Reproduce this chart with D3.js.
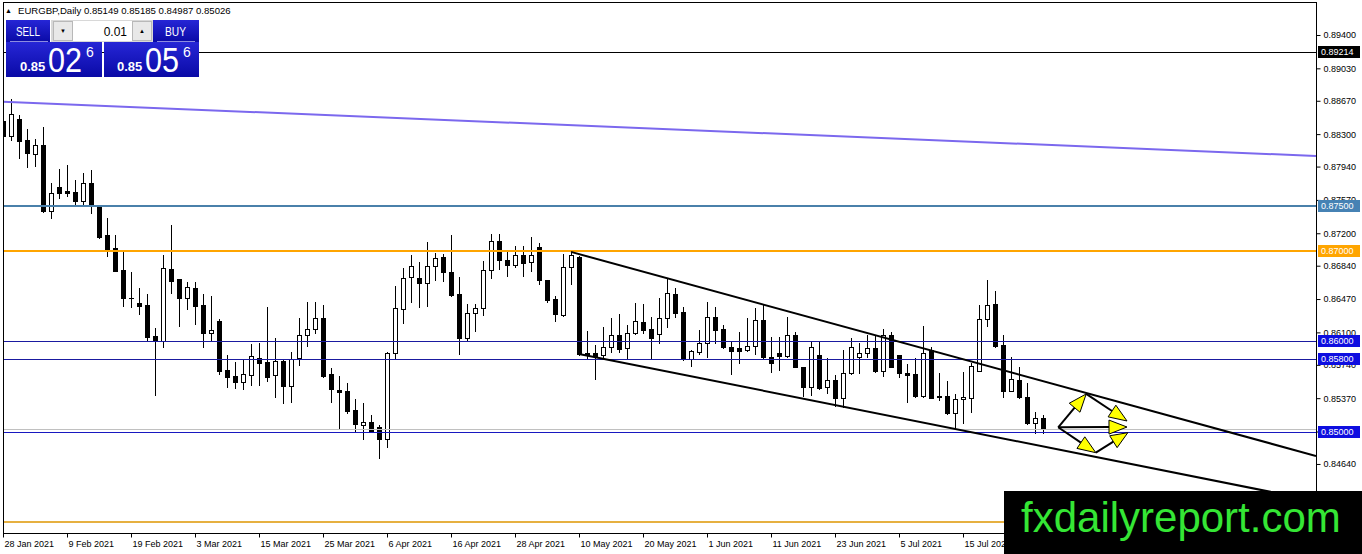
<!DOCTYPE html>
<html><head><meta charset="utf-8">
<script src="https://cdn.jsdelivr.net/npm/d3@7"></script>
<style>
html,body{margin:0;padding:0;background:#fff;overflow:hidden}
svg{display:block}
text{font-family:"Liberation Sans",Arial,sans-serif}
</style></head><body>
<svg id="c" width="1362" height="554"></svg>
<script>
const symbol = "EURGBP,Daily";
const open = [0.88447,0.88284,0.88469,0.88236,0.88077,0.88181,0.87451,0.87711,0.87670,0.87656,
0.87562,0.87755,0.87489,0.87182,0.87034,0.86793,0.86486,0.86430,0.86405,0.86060,
0.86005,0.86804,0.86693,0.86479,0.86597,0.86405,0.86097,0.86230,0.85683,0.85616,
0.85553,0.85624,0.85813,0.85772,0.85624,0.85786,0.85509,0.85820,0.86068,0.86135,
0.86257,0.85639,0.85461,0.85453,0.85239,0.85076,0.85102,0.85047,0.84914,0.85868,
0.86357,0.86719,0.86701,0.86649,0.86837,0.86934,0.86770,0.86527,0.86038,0.86312,
0.86371,0.86789,0.87112,0.86901,0.86852,0.86956,0.86879,0.87045,0.86685,0.86474,
0.86294,0.86823,0.86934,0.85875,0.85875,0.85853,0.85935,0.86068,0.85927,0.86090,
0.86219,0.86135,0.86079,0.86257,0.86527,0.86330,0.85808,0.85886,0.85979,0.86268,
0.86135,0.85935,0.85927,0.85905,0.85949,0.86238,0.85824,0.85868,0.85838,0.86072,
0.85713,0.85498,0.85850,0.85491,0.85572,0.85369,0.85646,0.85831,0.85868,0.85924,
0.85675,0.86072,0.85850,0.85646,0.85639,0.85394,0.85905,0.85394,0.85394,0.85209,
0.85358,0.85376,0.85675,0.86246,0.86416,0.85961,0.85453,0.85572,0.85387,0.85098,
0.85149];
const high = [0.88813,0.88691,0.88514,0.88358,0.88247,0.88380,0.87755,0.87914,0.87959,0.87792,
0.87866,0.87903,0.87507,0.87367,0.87182,0.86996,0.86768,0.86597,0.86523,0.86146,
0.86960,0.87293,0.86693,0.86663,0.86663,0.86523,0.86508,0.86246,0.85850,0.85775,
0.85802,0.85972,0.85986,0.86386,0.86035,0.85802,0.85886,0.86257,0.86435,0.86435,
0.86405,0.85702,0.85616,0.85542,0.85358,0.85313,0.85183,0.85072,0.85886,0.86615,
0.86815,0.86960,0.86882,0.87104,0.86982,0.86971,0.87185,0.86712,0.86416,0.86416,
0.86890,0.87193,0.87193,0.87007,0.87056,0.87056,0.87156,0.87093,0.86685,0.86501,
0.86971,0.86993,0.86945,0.86119,0.85964,0.86164,0.86260,0.86305,0.86179,0.86423,
0.86416,0.86275,0.86479,0.86690,0.86590,0.86386,0.85905,0.86127,0.86435,0.86379,
0.86183,0.85997,0.86108,0.86257,0.86368,0.86405,0.86046,0.86046,0.86268,0.86108,
0.85713,0.85997,0.85997,0.85813,0.85628,0.85905,0.86035,0.85986,0.86072,0.86060,
0.86135,0.86108,0.85850,0.85750,0.85813,0.86171,0.85935,0.85646,0.85561,0.85417,
0.85664,0.85757,0.86405,0.86682,0.86563,0.86072,0.85824,0.85713,0.85542,0.85220,
0.85185];
const low = [0.88225,0.88236,0.88033,0.87940,0.87951,0.87440,0.87367,0.87596,0.87618,0.87515,
0.87515,0.87422,0.87152,0.86952,0.86780,0.86397,0.86386,0.86308,0.86016,0.85406,
0.85942,0.86541,0.86175,0.86360,0.86194,0.85942,0.86005,0.85639,0.85491,0.85480,
0.85469,0.85517,0.85517,0.85564,0.85387,0.85313,0.85331,0.85739,0.85949,0.86090,
0.85602,0.85331,0.85025,0.85209,0.85009,0.84914,0.84998,0.84703,0.84832,0.85802,
0.86201,0.86441,0.86379,0.86390,0.86685,0.86674,0.86508,0.85861,0.86002,0.86113,
0.86297,0.86704,0.86807,0.86723,0.86823,0.86723,0.86785,0.86638,0.86438,0.86224,
0.86279,0.86638,0.85853,0.85808,0.85586,0.85816,0.85883,0.85883,0.85808,0.86079,
0.86097,0.85802,0.85986,0.86164,0.86275,0.85795,0.85727,0.85861,0.85831,0.85986,
0.85924,0.85639,0.85764,0.85894,0.85861,0.85820,0.85664,0.85683,0.85824,0.85713,
0.85394,0.85406,0.85469,0.85424,0.85283,0.85276,0.85639,0.85646,0.85831,0.85664,
0.85616,0.85713,0.85602,0.85331,0.85387,0.85380,0.85369,0.85350,0.85195,0.85025,
0.85091,0.85220,0.85675,0.86171,0.85942,0.85387,0.85453,0.85369,0.85084,0.84980,
0.84987];
const close = [0.88280,0.88521,0.88228,0.88088,0.88181,0.87451,0.87644,0.87651,0.87648,0.87562,
0.87755,0.87507,0.87163,0.87026,0.86785,0.86479,0.86479,0.86397,0.86053,0.86005,
0.86812,0.86671,0.86479,0.86604,0.86397,0.86097,0.86127,0.85675,0.85609,0.85553,
0.85639,0.85838,0.85764,0.85609,0.85786,0.85509,0.85802,0.86072,0.86135,0.86257,
0.85616,0.85469,0.85442,0.85231,0.85084,0.85102,0.85009,0.84914,0.85868,0.86368,
0.86701,0.86837,0.86649,0.86837,0.86926,0.86770,0.86519,0.86038,0.86312,0.86371,
0.86789,0.87112,0.86907,0.86852,0.86956,0.86874,0.86963,0.86685,0.86463,0.86305,
0.86823,0.86956,0.85861,0.85846,0.85842,0.85938,0.86068,0.85919,0.86090,0.86227,
0.86127,0.86035,0.86257,0.86534,0.86319,0.85802,0.85894,0.85986,0.86268,0.86127,
0.85935,0.85897,0.85897,0.85949,0.86238,0.85824,0.85764,0.85838,0.86072,0.85713,
0.85498,0.85935,0.85480,0.85572,0.85369,0.85646,0.85942,0.85868,0.85924,0.85675,
0.86072,0.85720,0.85646,0.85631,0.85394,0.85868,0.85369,0.85380,0.85209,0.85358,
0.85383,0.85727,0.86246,0.86405,0.85949,0.85453,0.85580,0.85380,0.85098,0.85147,
0.85026];
const dateLabels = ["28 Jan 2021","9 Feb 2021","19 Feb 2021","3 Mar 2021","15 Mar 2021","25 Mar 2021","6 Apr 2021","16 Apr 2021","28 Apr 2021","10 May 2021","20 May 2021","1 Jun 2021","11 Jun 2021","23 Jun 2021","5 Jul 2021","15 Jul 2021"];
const dateIndex = [0,8,16,24,32,40,48,56,64,72,80,88,96,104,112,120];
const priceTicks = [0.894,0.8903,0.8867,0.883,0.8794,0.8757,0.872,0.8684,0.8647,0.861,0.8574,0.8537,0.85,0.8464];
const levels = [0.89214,0.875,0.87,0.86,0.858,0.85,0.84];
const bidLevel = 0.85026;
const purpleLine = [[0,0.88660],[164.125,0.88057]];
const channelUpper = [[71,0.86993],[164.125,0.84729]];
const channelLower = [[72,0.85861],[164.125,0.84230]];
const arrowPts = [[131.9,0.85047],[135.4,0.85417],[140.5,0.85117],[140.5,0.85050],[136.6,0.84765],[140.6,0.84987]];
const arrowLinks = [[0,1],[1,2],[0,3],[0,4],[4,5]];
const sellPrice = ["0.85","02","6"];
const buyPrice = ["0.85","05","6"];
const lotSize = "0.01";

// ---- styles / layout ----
const levelStyle = {
  0.89214:{c:"#000000",w:1,lab:"#000000"},
  0.875:{c:"#4a80aa",w:2,lab:"#4682b4"},
  0.87:{c:"#ffa500",w:2,lab:"#ffa500"},
  0.86:{c:"#1a1aa0",w:1,lab:"#0e0ee0"},
  0.858:{c:"#1a1aa0",w:1,lab:"#0e0ee0"},
  0.85:{c:"#1818c0",w:1,lab:"#0e0ee0"},
  0.84:{c:"#e6b040",w:2,lab:null}
};
const L=3, T=2, R=1316, B=533;
const svg = d3.select("#c");
const x = d3.scaleLinear().domain([0,164.125]).range([L,R]);
const y = d3.scaleLinear().domain([0.83874,0.89766]).range([B,T]);

svg.append("rect").attr("width",1362).attr("height",554).attr("fill","#fff");
svg.append("defs").append("clipPath").attr("id","clip")
  .append("rect").attr("x",L).attr("y",T).attr("width",R-L).attr("height",B-T);

const plot = svg.append("g").attr("clip-path","url(#clip)");
const idx = d3.range(open.length);
const cx = i => Math.round(x(i));

// candles
plot.append("g").selectAll("line").data(idx).join("line")
  .attr("x1",i=>cx(i)+0.5).attr("x2",i=>cx(i)+0.5)
  .attr("y1",i=>Math.round(y(high[i]))).attr("y2",i=>Math.round(y(low[i]))+1)
  .attr("stroke","#000").attr("stroke-width",1);
plot.append("g").selectAll("rect").data(idx).join("rect")
  .attr("x",i=>cx(i)-1.5).attr("width",4)
  .attr("y",i=>Math.round(y(Math.max(open[i],close[i])))+0.5)
  .attr("height",i=>Math.max(0.01,Math.round(y(Math.min(open[i],close[i])))-Math.round(y(Math.max(open[i],close[i])))))
  .attr("fill",i=>close[i]>open[i]?"#fff":"#000")
  .attr("stroke","#000").attr("stroke-width",1);

// bid line
plot.append("line").attr("x1",L).attr("x2",R)
  .attr("y1",Math.round(y(bidLevel))+0.5).attr("y2",Math.round(y(bidLevel))+0.5)
  .attr("stroke","#c0c0c0").attr("stroke-width",1);

// horizontal levels
plot.append("g").selectAll("line").data(levels).join("line")
  .attr("x1",L).attr("x2",R)
  .attr("y1",d=>Math.round(y(d))+(levelStyle[d].w===1?0.5:0))
  .attr("y2",d=>Math.round(y(d))+(levelStyle[d].w===1?0.5:0))
  .attr("stroke",d=>levelStyle[d].c).attr("stroke-width",d=>levelStyle[d].w);

// trend lines
const ln = d3.line().x(d=>x(d[0])).y(d=>y(d[1]));
plot.append("path").attr("d",ln(purpleLine)).attr("fill","none").attr("stroke","#7b68ee").attr("stroke-width",2);
plot.append("path").attr("d",ln(channelUpper)).attr("fill","none").attr("stroke","#000").attr("stroke-width",2);
plot.append("path").attr("d",ln(channelLower)).attr("fill","none").attr("stroke","#000").attr("stroke-width",2);

// arrows
const ag = plot.append("g");
arrowLinks.forEach(([a,b])=>{
  const x0=x(arrowPts[a][0]), y0=y(arrowPts[a][1]);
  const x1=x(arrowPts[b][0]), y1=y(arrowPts[b][1]);
  const dx=x1-x0, dy=y1-y0, len=Math.hypot(dx,dy), ux=dx/len, uy=dy/len;
  const hl=Math.min(18,len*0.45), hw=7;
  const bx=x1-ux*hl, by=y1-uy*hl;
  ag.append("line").attr("x1",x0).attr("y1",y0).attr("x2",bx).attr("y2",by)
    .attr("stroke","#000").attr("stroke-width",2);
  ag.append("path")
    .attr("d",`M${x1},${y1}L${bx-uy*hw},${by+ux*hw}L${bx+uy*hw},${by-ux*hw}Z`)
    .attr("fill","#ffff00").attr("stroke","#000").attr("stroke-width",1);
});

// frame
svg.append("rect").attr("x",L+0.5).attr("y",T+0.5).attr("width",R-L).attr("height",B-T)
  .attr("fill","none").attr("stroke","#000").attr("stroke-width",1);

// right axis
const ay = svg.append("g").attr("transform",`translate(${R+0.5},0)`)
  .call(d3.axisRight(y).tickValues(priceTicks).tickSize(4).tickPadding(3).tickFormat(d3.format(".5f")));
ay.select(".domain").remove();
ay.selectAll("text").attr("font-size",9).attr("font-family","'Liberation Sans',Arial,sans-serif").attr("fill","#000");
ay.selectAll("line").attr("stroke","#000");

// bottom axis
const ax = svg.append("g").attr("transform",`translate(0,${B+0.5})`)
  .call(d3.axisBottom(x).tickValues(dateIndex).tickSize(4).tickPadding(3).tickFormat((d,i)=>dateLabels[i]));
ax.select(".domain").remove();
ax.selectAll("text").attr("font-size",9).attr("text-anchor","start").attr("dx",1)
  .attr("font-family","'Liberation Sans',Arial,sans-serif").attr("fill","#000");
ax.selectAll("line").attr("stroke","#000");

// level labels
const lab = svg.append("g").selectAll("g").data(levels.filter(d=>levelStyle[d].lab)).join("g")
  .attr("transform",d=>`translate(1318,${Math.round(y(d))})`);
lab.append("rect").attr("x",0).attr("y",-6).attr("width",42).attr("height",12).attr("fill",d=>levelStyle[d].lab);
lab.append("text").attr("x",3).attr("y",0).attr("dy","0.35em").attr("font-size",9).attr("fill","#fff")
  .text(d=>d3.format(".5f")(d));

// header
const hdr = svg.append("g");
hdr.append("text").attr("x",5).attr("y",13).attr("font-size",7).attr("fill","#000").text("▲");
hdr.append("text").attr("x",18).attr("y",14).attr("font-size",9.6).attr("fill","#000")
  .text(`${symbol} ${d3.format(".5f")(open[open.length-1])} ${d3.format(".5f")(high[high.length-1])} ${d3.format(".5f")(low[low.length-1])} ${d3.format(".5f")(close[close.length-1])}`);

// trade panel
const defs = svg.select("defs");
const gr = defs.append("linearGradient").attr("id","blu").attr("x1",0).attr("y1",0).attr("x2",0).attr("y2",1);
gr.append("stop").attr("offset","0%").attr("stop-color","#2626d6");
gr.append("stop").attr("offset","100%").attr("stop-color","#0a0aa6");
const p = svg.append("g");
p.append("rect").attr("x",6).attr("y",20).attr("width",44).attr("height",22).attr("fill","url(#blu)");
p.append("rect").attr("x",6).attr("y",42).attr("width",96).attr("height",35).attr("fill","url(#blu)");
p.append("rect").attr("x",153).attr("y",20).attr("width",46).attr("height",22).attr("fill","url(#blu)");
p.append("rect").attr("x",104).attr("y",42).attr("width",95).attr("height",35).attr("fill","url(#blu)");
p.append("line").attr("x1",10).attr("x2",48).attr("y1",41.5).attr("y2",41.5).attr("stroke","#8c8ce0");
p.append("line").attr("x1",157).attr("x2",195).attr("y1",41.5).attr("y2",41.5).attr("stroke","#8c8ce0");
p.append("rect").attr("x",51).attr("y",20).attr("width",102).attr("height",22).attr("fill","#d8d8d8");
p.append("rect").attr("x",53.5).attr("y",21.5).attr("width",19).attr("height",19).attr("fill","#e8e8e8").attr("stroke","#b8b8b8");
p.append("rect").attr("x",73).attr("y",21).attr("width",59).attr("height",20).attr("fill","#fff");
p.append("rect").attr("x",132.5).attr("y",21.5).attr("width",19).attr("height",19).attr("fill","#e8e8e8").attr("stroke","#b8b8b8");
p.append("text").attr("x",63).attr("y",33).attr("text-anchor","middle").attr("font-size",6).attr("fill","#000").text("▼");
p.append("text").attr("x",142).attr("y",33).attr("text-anchor","middle").attr("font-size",6).attr("fill","#000").text("▲");
p.append("text").attr("x",127).attr("y",36).attr("text-anchor","end").attr("font-size",12).attr("fill","#000").text(lotSize);
p.append("text").attr("x",16).attr("y",36).attr("font-size",12).attr("fill","#fff")
  .attr("textLength",24).attr("lengthAdjust","spacingAndGlyphs").text("SELL");
p.append("text").attr("x",165).attr("y",36).attr("font-size",12).attr("fill","#fff")
  .attr("textLength",21).attr("lengthAdjust","spacingAndGlyphs").text("BUY");
function priceBlock(x0, parts){
  p.append("text").attr("x",x0).attr("y",71).attr("font-size",13).attr("font-weight","bold").attr("fill","#fff").text(parts[0]);
  p.append("text").attr("x",x0+28).attr("y",72).attr("font-size",35).attr("fill","#fff")
    .attr("textLength",34).attr("lengthAdjust","spacingAndGlyphs").text(parts[1]);
  p.append("text").attr("x",x0+66).attr("y",57).attr("font-size",14).attr("fill","#fff").text(parts[2]);
}
priceBlock(20, sellPrice);
priceBlock(117, buyPrice);

// watermark
svg.append("rect").attr("x",1004).attr("y",491).attr("width",358).attr("height",63).attr("fill","#000");
svg.append("text").attr("x",1021).attr("y",532).attr("font-size",42).attr("fill","#35e635").text("fxdailyreport.com");
</script>
</body></html>
